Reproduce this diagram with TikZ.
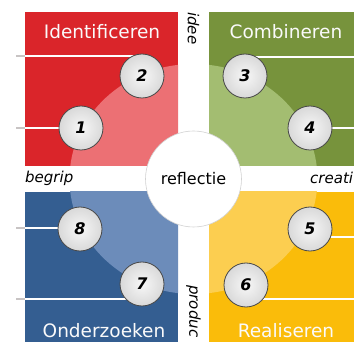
\documentclass[tikz,border=0pt]{standalone}
\usepackage{fontspec}
\setmainfont{DejaVu Sans}
\definecolor{rdark}{RGB}{218,37,42}
\definecolor{rlight}{RGB}{236,112,116}
\definecolor{gdark}{RGB}{119,147,60}
\definecolor{glight}{RGB}{163,189,113}
\definecolor{bdark}{RGB}{52,94,145}
\definecolor{blight}{RGB}{108,140,186}
\definecolor{ydark}{RGB}{250,188,10}
\definecolor{ylight}{RGB}{252,206,80}
\definecolor{lgray}{RGB}{200,196,196}
\pgfdeclarelayer{bg}
\pgfdeclarelayer{mid}
\pgfsetlayers{bg,mid,main}
\tikzset{
  numball/.style={circle, minimum size=44pt, inner sep=0pt, draw=black!72, line width=0.8pt,
    inner color=gray!6, outer color=gray!30, font=\fontsize{16}{16}\selectfont\bfseries\itshape},
  title/.style={text=white!96!gray, inner sep=0pt, font=\fontsize{18.5}{18.5}\selectfont},
  axislabel/.style={inner sep=0pt, font=\fontsize{15}{15}\selectfont\itshape},
  wline/.style={draw=white, line width=1.5pt},
  gline/.style={draw=lgray, line width=1.5pt},
  centre/.style={circle, minimum size=96pt, inner sep=0pt, fill=white, draw=gray!35, line width=0.6pt,
    font=\fontsize{16}{16}\selectfont},
}
\begin{document}
\begin{tikzpicture}[x=1pt,y=-1pt]
\clip (0,0) rectangle (354,342);
\coordinate (C) at (193.5,179);
\begin{pgfonlayer}{bg}
  \fill[white] (0,0) rectangle (354,342);
  \begin{scope}
    \clip (25,12) rectangle (178,166);
    \fill[rdark] (25,12) rectangle (178,166);
    \fill[rlight] (C) ellipse [x radius=124pt, y radius=115pt];
  \end{scope}
  \begin{scope}
    \clip (209,12) rectangle (360,166);
    \fill[gdark] (209,12) rectangle (360,166);
    \fill[glight] (C) ellipse [x radius=124pt, y radius=115pt];
  \end{scope}
  \begin{scope}
    \clip (25,192) rectangle (178,350);
    \fill[bdark] (25,192) rectangle (178,350);
    \fill[blight] (C) ellipse [x radius=124pt, y radius=115pt];
  \end{scope}
  \begin{scope}
    \clip (209,192) rectangle (360,350);
    \fill[ydark] (209,192) rectangle (360,350);
    \fill[ylight] (C) ellipse [x radius=124pt, y radius=115pt];
  \end{scope}
\end{pgfonlayer}

% numbered balls
\node[numball] (n1) at (81,128) {1};
\node[numball] (n2) at (142,76) {2};
\node[numball] (n3) at (245,76) {3};
\node[numball] (n4) at (310,128) {4};
\node[numball] (n5) at (310,229) {5};
\node[numball] (n6) at (246,285) {6};
\node[numball] (n7) at (142,284) {7};
\node[numball] (n8) at (80,229) {8};

% line ends
\coordinate (l1) at (16,128);
\coordinate (l2) at (16,56);
\coordinate (l8) at (16,228);
\coordinate (l7) at (16,299);
\coordinate (r3) at (356,57);
\coordinate (r4) at (356,128);
\coordinate (r5) at (356,237);
\coordinate (r6) at (356,299);
\begin{pgfonlayer}{mid}
  \foreach \l/\n in {l1/n1, l2/n2, l8/n8, l7/n7}{
    \draw[gline] (\l) -- ++(9,0);
    \draw[wline] ([xshift=9pt]\l) -- (\l -| \n);
  }
  \foreach \r/\n in {r3/n3, r4/n4, r5/n5, r6/n6}{
    \draw[wline] (\r) -- (\r -| \n);
  }
\end{pgfonlayer}

% titles
\node[title] (tI) at (102,32) {Identificeren};
\node[title] (tC) at (286,32) {Combineren};
\node[title] (tO) at (104,331) {Onderzoeken};
\node[title] (tR) at (286,331) {Realiseren};

% axis labels
\node[axislabel, rotate=-90, anchor=west] (idee) at (193.5,12) {idee};
\node[axislabel, rotate=-90, anchor=west] (prod) at (193.5,285) {produc};
\node[axislabel, anchor=base west] (begrip) at (25,183) {begrip};
\node[axislabel, anchor=base west] (creat) at (310,184) {creati};

% centre
\node[centre] (refl) at (C) {reflectie};
\end{tikzpicture}
\end{document}
